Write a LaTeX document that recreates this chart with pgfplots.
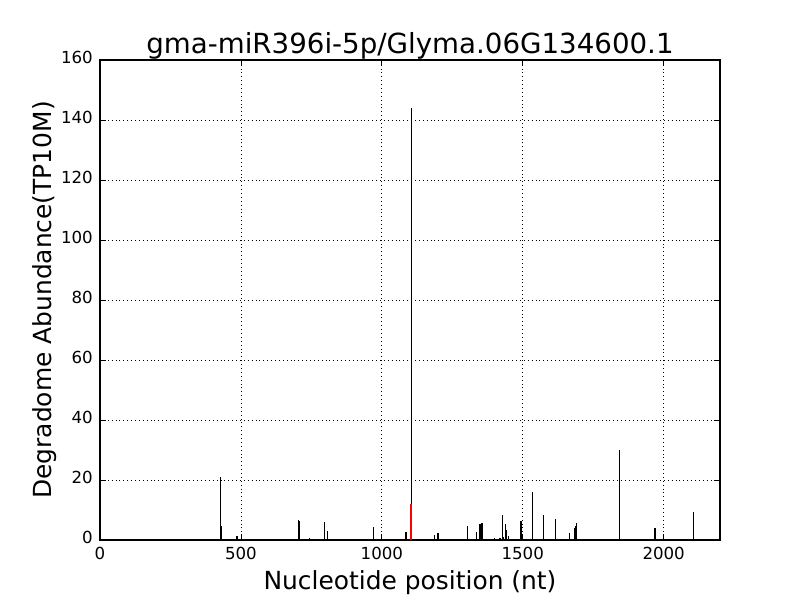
\documentclass[border=0pt]{standalone}
\usepackage{fontspec}
\setmainfont{DejaVu Sans}
\usepackage{pgfplots}
\pgfplotsset{compat=1.18}
\begin{document}
\begin{tikzpicture}
\path[use as bounding box] (0,0) rectangle (8in,6in);
\begin{axis}[
  at={(1in,0.6in)}, anchor=south west,
  width=6.2in, height=4.8in, scale only axis,
  xmin=0, xmax=2200, ymin=0, ymax=160,
  xtick={0,500,...,2000}, ytick={0,20,...,160},
  tick align=inside, major tick length=4bp,
  xtick pos=both, ytick pos=both,
  every tick/.style={black, line width=0.5bp},
  axis line style={line width=1bp},
  grid=major,
  major grid style={black, line width=0.5bp, dash pattern=on 0.6bp off 2.2bp},
  ticklabel style={font=\fontsize{12}{14}\selectfont},
  /pgf/number format/assume math mode=true,
  /pgf/number format/set thousands separator={},
  xticklabel style={anchor=base, yshift=-0.2in, inner sep=0pt},
  yticklabel style={anchor=mid east, xshift=-0.07in, inner sep=0pt},
  xlabel={Nucleotide position (nt)},
  ylabel={Degradome Abundance(TP10M)},
  title={gma-miR396i-5p/Glyma.06G134600.1},
  every axis x label/.style={at={(axis description cs:0.5,-0.104)}, anchor=base, inner sep=0pt, font=\fontsize{18}{21}\selectfont},
  every axis y label/.style={at={(axis description cs:-0.079,0.5)}, rotate=90, anchor=base, inner sep=0pt, font=\fontsize{18}{21}\selectfont},
  every axis title/.style={at={(axis description cs:0.5,1.0145)}, anchor=base, inner sep=0pt, font=\fontsize{20}{24}\selectfont},
]
\addplot[ycomb, black, line width=1bp, mark=none] coordinates {
(427,21) (430,4.5) (486,1.3) (672,0.3) (686,0.3) (704,6.7) (707,6.2) (743,0.7)
(796,6) (807,3) (970,4.2) (1086,2.7) (1105,144) (1186,1.6) (1200,2.2) (1303,4.6)
(1335,2.6) (1348,5.2) (1355,5.6) (1399,0.5) (1419,0.7) (1428,8.3) (1431,1.1)
(1438,5.2) (1442,3.2) (1450,1.2) (1494,6.2) (1535,15.9) (1573,8.2) (1580,0.3)
(1616,6.9) (1666,2.2) (1683,2.2) (1686,3.9) (1688,4.7) (1690,5.6) (1843,30)
(1969,4.1) (2105,9.2)
};
\addplot[ycomb, red, line width=1.5bp, mark=none] coordinates {(1104,12)};
\end{axis}
\end{tikzpicture}
\end{document}
